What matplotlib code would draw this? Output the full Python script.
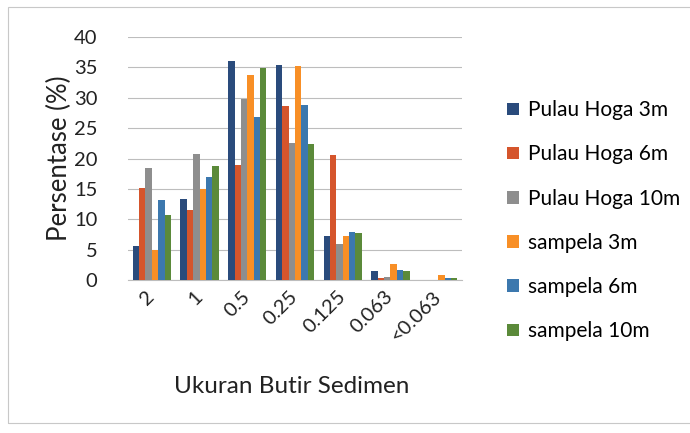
import matplotlib
matplotlib.use("Agg")
import matplotlib.pyplot as plt
import numpy as np
from matplotlib.patches import Rectangle

categories = ["2", "1", "0.5", "0.25", "0.125", "0.063", "<0.063"]
series_names = ["Pulau Hoga 3m", "Pulau Hoga 6m", "Pulau Hoga 10m",
                "sampela 3m", "sampela 6m", "sampela 10m"]
hoga_3m = [5.6, 13.3, 36.0, 35.4, 7.2, 1.5, 0.0]
hoga_6m = [15.2, 11.6, 18.9, 28.6, 20.5, 0.3, 0.0]
hoga_10m = [18.5, 20.8, 29.8, 22.6, 5.9, 0.5, 0.0]
sampela_3m = [4.9, 15.0, 33.7, 35.2, 7.3, 2.7, 0.9]
sampela_6m = [13.2, 16.9, 26.9, 28.8, 7.9, 1.6, 0.4]
sampela_10m = [10.7, 18.7, 34.9, 22.4, 7.7, 1.5, 0.3]
y_ticks = [0, 5, 10, 15, 20, 25, 30, 35, 40]

colors = ["#2A4B7C", "#D5552C", "#8E8E8E", "#F88F26", "#3C78AE", "#5B8A3A"]
data = [hoga_3m, hoga_6m, hoga_10m, sampela_3m, sampela_6m, sampela_10m]

plt.rcParams['font.family'] = ['Lato', 'DejaVu Sans']

fig = plt.figure(figsize=(6.9, 4.33), dpi=100)
fig.patch.set_facecolor("white")
fig.patches.append(Rectangle((8/690, 10/433), 1.2, 1 - 17/433, transform=fig.transFigure,
                             fill=False, edgecolor="#c8c8c8", linewidth=0.8))

ax = fig.add_axes([128/690, 1 - 280/433, 334/690, 243/433])
x = np.arange(len(categories))
n = len(data)
bw = 0.8 / n
for i, (vals, c, name) in enumerate(zip(data, colors, series_names)):
    ax.bar(x - 0.4 + bw * (i + 0.5), vals, width=bw, color=c, label=name, zorder=3)

ax.set_xlim(-0.5, len(categories) - 0.5)
ax.set_ylim(0, 40)
ax.set_yticks(y_ticks)
ax.tick_params(axis='y', labelsize=14.5, length=0, pad=22, colors="#222222")
ax.set_xticks(x)
ax.set_xticklabels(categories, rotation=45, fontsize=14.5, color="#222222")
ax.tick_params(axis='x', length=0, pad=10)
for lab in ax.get_xticklabels():
    lab.set_ha("right")
    lab.set_va("center")
    lab.set_rotation_mode("anchor")
ax.grid(axis='y', color="#bdbdbd", linewidth=0.8, zorder=0)
for s in ["top", "right", "left"]:
    ax.spines[s].set_visible(False)
ax.spines["bottom"].set_color("#bdbdbd")
ax.set_ylabel("Persentase (%)", fontsize=18.5, color="#222222")
ax.yaxis.set_label_coords(-0.168, 0.5)
ax.set_xlabel("Ukuran Butir Sedimen", fontsize=17.5, color="#222222")
ax.xaxis.set_label_coords(0.49, -0.395)

leg = fig.legend(loc="upper left", bbox_to_anchor=(499/690, 1 - 92/433), frameon=False,
                 fontsize=15, labelspacing=1.16, handlelength=0.55, handleheight=0.55,
                 handletextpad=0.45, borderaxespad=0)
plt.savefig("out.png", dpi=100)
